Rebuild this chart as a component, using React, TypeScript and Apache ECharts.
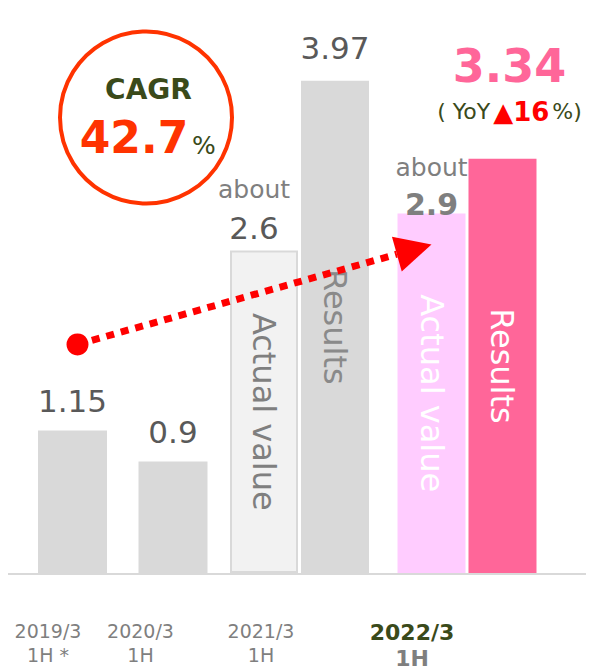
import React, { useEffect, useRef } from "react";
import * as echarts from "echarts";

const periods = ["2019/3", "2020/3", "2021/3", "2022/3"];
const halves = ["1H *", "1H", "1H", "1H"];
const earlyResults = [1.15, 0.9]; // 2019/3 1H, 2020/3 1H
const actualValues = [2.6, 2.9]; // 2021/3 1H, 2022/3 1H (actual value, "about")
const resultValues = [3.97, 3.34]; // 2021/3 1H, 2022/3 1H (results)
const cagrText = "42.7";
const yoyText = "16";
const innerNames = ["Actual value", "Results"];

const FONT = "DejaVu Sans";
const OLIVE = "#3a4a1a";
const GRAY = "#7f7f7f";
const DARK = "#595959";
const PINK = "#ff6699";
const LIGHT_PINK = "#ffccff";
const BAR_GRAY = "#d9d9d9";

const BW = 68;
const GAP = 3;
const spacers = [49, 65, 77, 110];

function catLabel(i: number) {
  const bold = i === periods.length - 1;
  const y = bold ? "yb" : "y";
  const h = bold ? "hb" : "h";
  return `{${y}|${periods[i]}}{s${i}| }\n{${h}|${halves[i]}}{s${i}| }`;
}

const richCat: any = {
  y: { fontSize: 19, color: GRAY, lineHeight: 24, fontFamily: FONT },
  h: { fontSize: 19, color: GRAY, lineHeight: 24, fontFamily: FONT },
  yb: { fontSize: 22, fontWeight: "bold", color: OLIVE, lineHeight: 26, fontFamily: FONT },
  hb: { fontSize: 22, fontWeight: "bold", color: GRAY, lineHeight: 26, fontFamily: FONT },
};
spacers.forEach((w, i) => {
  richCat["s" + i] = { width: w, fontSize: 10 };
});

export default function App() {
  const ref = useRef<HTMLDivElement>(null);
  useEffect(() => {
    if (!ref.current) return;
    const chart = echarts.init(ref.current, undefined, { renderer: "svg" });
    const gridTop = 15;
    const gridBottom = 97;
    const yMax = 4.5;
    const axisLabelBase = {
      interval: 0,
      margin: 46,
      rich: richCat,
    };
    const option: any = {
      animation: false,
      textStyle: { fontFamily: FONT },
      grid: [
        { left: 22.25, right: 594 - 223.25, top: gridTop, bottom: gridBottom },
        { left: 215.75, right: 594 - 550.75, top: gridTop, bottom: gridBottom },
      ],
      xAxis: [
        {
          gridIndex: 0,
          type: "category",
          data: periods.slice(0, 2),
          axisLine: { show: false },
          axisTick: { show: false },
          axisLabel: { ...axisLabelBase, formatter: (_v: string, i: number) => catLabel(i) },
        },
        {
          gridIndex: 1,
          type: "category",
          data: periods.slice(2),
          axisLine: { show: false },
          axisTick: { show: false },
          axisLabel: { ...axisLabelBase, formatter: (_v: string, i: number) => catLabel(i + 2) },
        },
        {
          gridIndex: 1,
          type: "category",
          data: periods.slice(2),
          show: false,
        },
      ],
      yAxis: [
        { gridIndex: 0, type: "value", min: 0, max: yMax, show: false },
        { gridIndex: 1, type: "value", min: 0, max: yMax, show: false },
      ],
      series: [
        {
          type: "bar",
          name: "Results (earlier)",
          xAxisIndex: 0,
          yAxisIndex: 0,
          barWidth: 69,
          data: earlyResults,
          itemStyle: { color: BAR_GRAY },
          label: {
            show: true,
            position: "top",
            distance: 9,
            fontSize: 31,
            lineHeight: 40,
            color: DARK,
            fontFamily: FONT,
          },
        },
        {
          type: "bar",
          name: innerNames[0],
          xAxisIndex: 1,
          yAxisIndex: 1,
          barWidth: BW,
          barGap: ((GAP / BW) * 100).toFixed(1) + "%",
          data: [
            {
              value: actualValues[0],
              itemStyle: { color: "#f2f2f2", borderColor: BAR_GRAY, borderWidth: 2 },
              label: { color: GRAY },
            },
            {
              value: actualValues[1],
              itemStyle: { color: LIGHT_PINK },
              label: { color: "#ffffff" },
            },
          ],
          label: {
            show: true,
            position: "inside",
            rotate: -90,
            formatter: innerNames[0],
            fontSize: 32,
            fontFamily: FONT,
          },
        },
        {
          type: "bar",
          name: innerNames[1],
          xAxisIndex: 1,
          yAxisIndex: 1,
          barWidth: BW,
          barGap: ((GAP / BW) * 100).toFixed(1) + "%",
          data: [
            { value: resultValues[0], itemStyle: { color: BAR_GRAY }, label: { color: "#8a8a8a" } },
            { value: resultValues[1], itemStyle: { color: PINK }, label: { color: "#ffffff" } },
          ],
          label: {
            show: true,
            position: "inside",
            rotate: -90,
            formatter: innerNames[1],
            fontSize: 32,
            fontFamily: FONT,
          },
        },
        {
          type: "bar",
          name: "actual-label",
          silent: true,
          xAxisIndex: 2,
          yAxisIndex: 1,
          barWidth: BW,
          barGap: ((GAP / BW) * 100).toFixed(1) + "%",
          itemStyle: { color: "rgba(0,0,0,0)" },
          data: [
            {
              value: actualValues[0],
              label: {
                formatter: `{a|about}\n{v|${actualValues[0]}}`,
                distance: 3,
                offset: [-10, 0],
              },
            },
            {
              value: actualValues[1],
              label: {
                formatter: `{a|about}\n{b|${actualValues[1]}}`,
                distance: -10,
              },
            },
          ],
          label: {
            show: true,
            position: "top",
            rich: {
              a: { fontSize: 25, color: GRAY, lineHeight: 36, fontFamily: FONT },
              v: { fontSize: 31, color: DARK, lineHeight: 40, fontFamily: FONT },
              b: { fontSize: 30, fontWeight: "bold", color: GRAY, lineHeight: 38, fontFamily: FONT },
            },
          },
        },
        {
          type: "bar",
          name: "results-label",
          silent: true,
          xAxisIndex: 2,
          yAxisIndex: 1,
          barWidth: BW,
          barGap: ((GAP / BW) * 100).toFixed(1) + "%",
          itemStyle: { color: "rgba(0,0,0,0)" },
          data: [
            {
              value: resultValues[0],
              label: { formatter: `{v|${resultValues[0]}}`, distance: 13 },
            },
            {
              value: resultValues[1],
              label: {
                formatter: `{big|${resultValues[1]}}\n{p|( YoY}{r|▲${yoyText}}{p|%)}`,
                distance: 33,
                offset: [7, 0],
              },
            },
          ],
          label: {
            show: true,
            position: "top",
            rich: {
              v: { fontSize: 31, color: DARK, lineHeight: 40, fontFamily: FONT },
              big: { fontSize: 46, fontWeight: "bold", color: PINK, lineHeight: 64, fontFamily: FONT },
              p: { fontSize: 22, color: OLIVE, lineHeight: 28, fontFamily: FONT },
              r: { fontSize: 26, fontWeight: "bold", color: "#ff0000", lineHeight: 28, padding: [0, 3], fontFamily: FONT },
            },
          },
        },
      ],
    };
    chart.setOption(option);

    // Annotation geometry derived from the data through the axes
    const p0 = chart.convertToPixel({ xAxisIndex: 0, yAxisIndex: 0 } as any, [0, 0]) as number[];
    const pStart = chart.convertToPixel({ xAxisIndex: 0, yAxisIndex: 0 } as any, [0, earlyResults[0]]) as number[];
    const pEnd = chart.convertToPixel({ xAxisIndex: 1, yAxisIndex: 1 } as any, [1, actualValues[1]]) as number[];
    const baseY = p0[1];
    const dot = [pStart[0] + 5, pStart[1] - 86];
    const tip = [pEnd[0] - (BW + GAP) / 2, pEnd[1] + 31];
    const dx = tip[0] - dot[0];
    const dy = tip[1] - dot[1];
    const len = Math.sqrt(dx * dx + dy * dy);
    const ux = dx / len;
    const uy = dy / len;
    const L = 36;
    const W = 18;
    const bc = [tip[0] - ux * L, tip[1] - uy * L];
    const nx = -uy;
    const ny = ux;

    chart.setOption({
      graphic: [
        {
          type: "line",
          z: 0,
          shape: { x1: 8, y1: baseY + 1, x2: 586, y2: baseY + 1 },
          style: { stroke: BAR_GRAY, lineWidth: 2 },
        },
        {
          type: "circle",
          z: 50,
          shape: { cx: 146, cy: 117.5, r: 86 },
          style: { fill: "rgba(255,255,255,0)", stroke: "#ff3300", lineWidth: 4 },
        },
        {
          type: "text",
          z: 50,
          style: {
            text: "CAGR",
            x: 148.5,
            y: 89,
            textAlign: "center",
            textVerticalAlign: "middle",
            fontSize: 28,
            fontWeight: "bold",
            fontFamily: FONT,
            fill: OLIVE,
          },
        },
        {
          type: "text",
          z: 50,
          style: {
            text: cagrText,
            x: 134,
            y: 137,
            textAlign: "center",
            textVerticalAlign: "middle",
            fontSize: 44,
            fontWeight: "bold",
            fontFamily: FONT,
            fill: "#ff3300",
          },
        },
        {
          type: "text",
          z: 50,
          style: {
            text: "%",
            x: 192,
            y: 145,
            textAlign: "left",
            textVerticalAlign: "middle",
            fontSize: 25,
            fontFamily: FONT,
            fill: OLIVE,
          },
        },
        {
          type: "line",
          z: 100,
          shape: { x1: dot[0], y1: dot[1], x2: bc[0], y2: bc[1] },
          style: { stroke: "#ff0000", lineWidth: 7, lineDash: [8, 7] },
        },
        {
          type: "circle",
          z: 100,
          shape: { cx: dot[0], cy: dot[1], r: 11 },
          style: { fill: "#ff0000" },
        },
        {
          type: "polygon",
          z: 100,
          shape: {
            points: [
              [tip[0], tip[1]],
              [bc[0] + nx * W, bc[1] + ny * W],
              [bc[0] - nx * W, bc[1] - ny * W],
            ],
          },
          style: { fill: "#ff0000" },
        },
      ],
    });

    return () => chart.dispose();
  }, []);
  return (
    <div
      ref={ref}
      style={{ position: "fixed", left: 0, top: 0, width: 594, height: 670, background: "#ffffff" }}
    />
  );
}
